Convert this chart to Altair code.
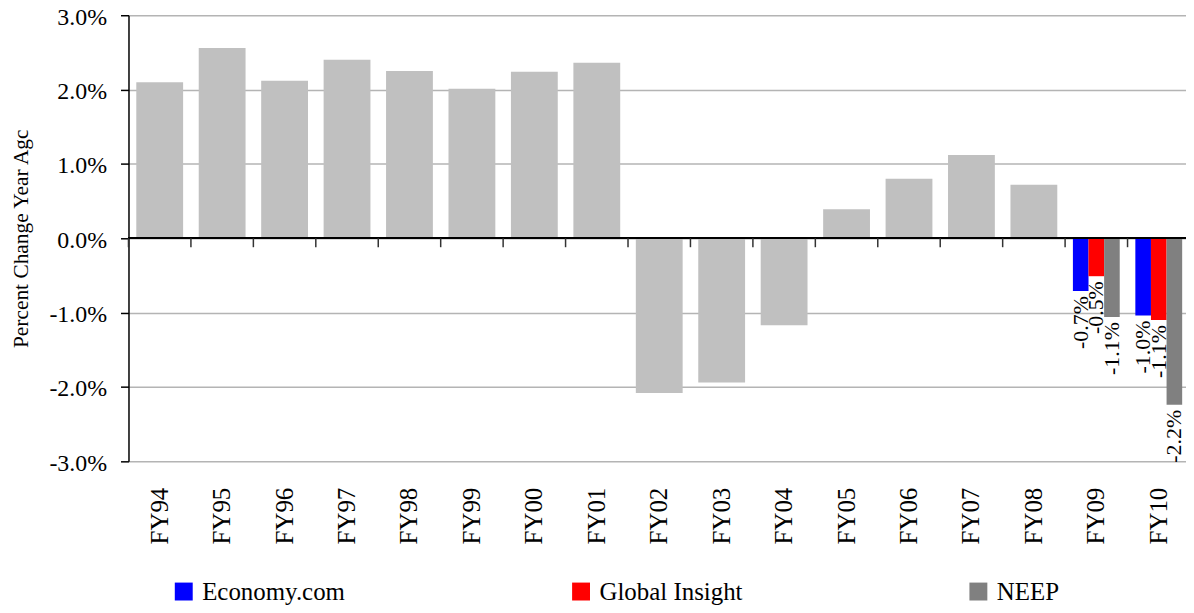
import altair as alt
import pandas as pd

years = ["FY94", "FY95", "FY96", "FY97", "FY98", "FY99", "FY00", "FY01", "FY02",
         "FY03", "FY04", "FY05", "FY06", "FY07", "FY08", "FY09", "FY10"]

history_years = years[:15]
history_values = [2.10, 2.56, 2.12, 2.40, 2.25, 2.01, 2.24, 2.36, -2.08, -1.94,
                  -1.17, 0.39, 0.80, 1.12, 0.72]

sources = ["Economy.com", "Global Insight", "NEEP"]
source_colors = ["#0000FF", "#FF0000", "#808080"]
forecast_years = ["FY09", "FY09", "FY09", "FY10", "FY10", "FY10"]
forecast_sources = ["Economy.com", "Global Insight", "NEEP",
                    "Economy.com", "Global Insight", "NEEP"]
forecast_values = [-0.71, -0.51, -1.06, -1.04, -1.10, -2.24]

y_ticks = [-3, -2, -1, 0, 1, 2, 3]

FONT = "Liberation Serif"
PCT = "replace(format(datum.value, '.1f'), '\u2212', '-') + '%'"

hist_df = pd.DataFrame({"year": history_years, "value": history_values})
fc_df = pd.DataFrame({"year": forecast_years, "source": forecast_sources,
                      "value": forecast_values})
tick_df = pd.DataFrame({"year": years})
end_df = pd.DataFrame({"year": [years[-1]]})

xscale = alt.Scale(domain=years, paddingInner=0.25, paddingOuter=0.125, range=[0, 1066])
yscale = alt.Scale(domain=[-3, 3], nice=False, zero=False)

xaxis = alt.Axis(title=None, orient="bottom", domain=False, ticks=False, grid=False,
                 labelAngle=270, labelFont=FONT, labelFontSize=25, labelColor="black",
                 labelPadding=26)
yaxis = alt.Axis(title="Percent Change Year Agc", values=y_ticks,
                 labelExpr=PCT,
                 labelFont=FONT, labelFontSize=24, labelColor="black", labelPadding=14,
                 labelOffset=2,
                 tickSize=8, tickColor="black", tickWidth=1.5,
                 domainColor="black", domainWidth=1.5,
                 grid=True, gridColor="#B4B4B4", gridWidth=1.5,
                 titleFont=FONT, titleFontSize=21.5, titleFontWeight="normal",
                 titleColor="black", titlePadding=16)

hist = alt.Chart(hist_df).mark_bar(color="#C0C0C0").encode(
    x=alt.X("year:N", scale=xscale, axis=xaxis, sort=years),
    y=alt.Y("value:Q", scale=yscale, axis=yaxis),
)

fc = alt.Chart(fc_df).mark_bar().encode(
    x=alt.X("year:N", sort=years),
    xOffset=alt.XOffset("source:N", sort=sources,
                        scale=alt.Scale(domain=sources, paddingInner=0, paddingOuter=0)),
    y=alt.Y("value:Q"),
    color=alt.Color("source:N", scale=alt.Scale(domain=sources, range=source_colors),
                    legend=alt.Legend(title=None, orient="none", direction="horizontal",
                                      legendX=43, legendY=566, symbolType="square",
                                      symbolSize=324, symbolStrokeWidth=0,
                                      labelFont=FONT, labelFontSize=25, labelColor="black",
                                      labelOffset=6, columnPadding=224, padding=0,
                                      labelLimit=400)),
)

zero = alt.Chart(hist_df).mark_rule(color="black", strokeWidth=1.5).encode(
    y=alt.datum(0)
)

ticks = alt.Chart(tick_df).mark_rule(color="#333333", strokeWidth=1.5, xOffset=-7.84).encode(
    x=alt.X("year:N", sort=years, bandPosition=0),
    y=alt.datum(0),
    y2=alt.datum(-0.12),
)
end_tick = alt.Chart(end_df).mark_rule(color="#333333", strokeWidth=1.5, xOffset=7.84).encode(
    x=alt.X("year:N", sort=years, bandPosition=1),
    y=alt.datum(0),
    y2=alt.datum(-0.12),
)

labels = alt.Chart(fc_df).transform_calculate(
    label=PCT
).mark_text(angle=270, align="right", baseline="middle", yOffset=5,
            font=FONT, fontSize=22, color="black").encode(
    x=alt.X("year:N", sort=years),
    xOffset=alt.XOffset("source:N", sort=sources),
    y=alt.Y("value:Q"),
    text="label:N",
)

chart = alt.layer(hist, fc, zero, ticks, end_tick, labels).properties(
    width=1062, height=448,
    autosize=alt.AutoSizeParams(type="none"),
    padding={"left": 121, "top": 6, "right": 0, "bottom": 143},
).configure_view(stroke=None)

chart.save("out.html", embed_options={"renderer": "svg", "actions": False})
